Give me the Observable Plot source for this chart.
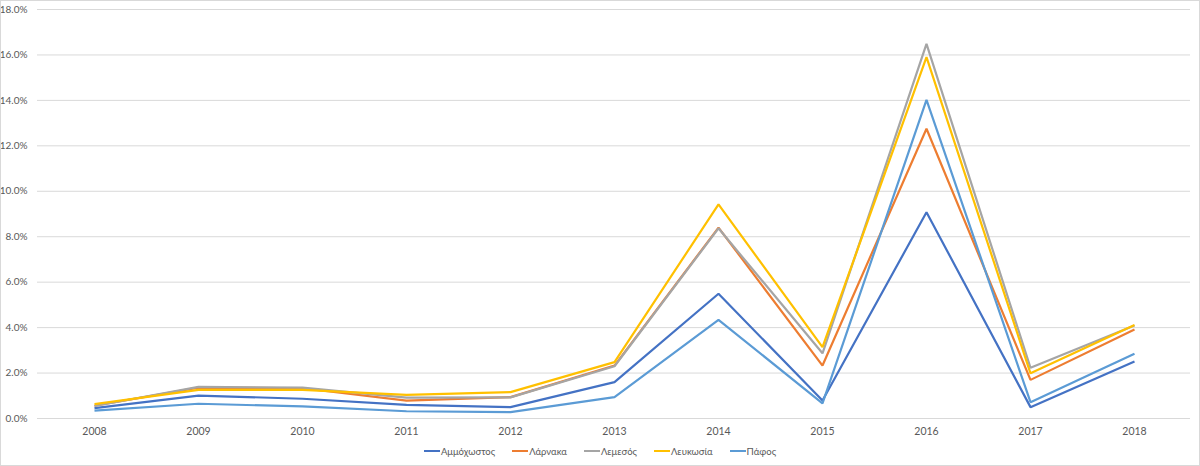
<!DOCTYPE html>
<html>
<head>
<meta charset="utf-8">
<script src="https://cdn.jsdelivr.net/npm/d3@7"></script>
<script src="https://cdn.jsdelivr.net/npm/@observablehq/plot@0.6"></script>
<style>
  html, body { margin: 0; padding: 0; background: #fff; }
  #wrap { position: relative; width: 1200px; height: 466px; overflow: hidden; font-family: Lato, "Liberation Sans", sans-serif; }
  #chart { position: absolute; left: 0; top: 0; }
  #legend { position: absolute; left: 0; top: 443px; width: 1200px; height: 16px; display: flex; justify-content: center; align-items: center; gap: 17px; font-size: 9.5px; color: #595959; }
  .item { display: flex; align-items: center; }
  .sw { width: 16px; height: 2px; margin-right: 1px; }
  #border { position: absolute; left: 0; top: 0; width: 1200px; height: 466px; box-sizing: border-box; border: 1px solid #d9d9d9; pointer-events: none; }
</style>
</head>
<body>
<div id="wrap">
  <div id="chart"></div>
  <div id="legend"></div>
  <div id="border"></div>
</div>
<script>
const years = ["2008","2009","2010","2011","2012","2013","2014","2015","2016","2017","2018"];
const seriesNames = ["Αμμόχωστος","Λάρνακα","Λεμεσός","Λευκωσία","Πάφος"];
const seriesColors = ["#4472C4","#ED7D31","#A5A5A5","#FFC000","#5B9BD5"];
// values in percent
const ammochostos = [0.46, 1.01, 0.87, 0.60, 0.50, 1.60, 5.49, 0.79, 9.08, 0.50, 2.51];
const larnaka     = [0.56, 1.36, 1.33, 0.79, 0.94, 2.33, 8.40, 2.33, 12.75, 1.70, 3.92];
const lemesos     = [0.55, 1.39, 1.36, 0.92, 0.93, 2.30, 8.37, 2.87, 16.49, 2.23, 4.09];
const lefkosia    = [0.63, 1.26, 1.26, 1.04, 1.16, 2.48, 9.42, 3.14, 15.90, 1.99, 4.11];
const pafos       = [0.35, 0.65, 0.53, 0.32, 0.28, 0.94, 4.34, 0.67, 14.02, 0.72, 2.85];
const yTicks = [0, 2, 4, 6, 8, 10, 12, 14, 16, 18];

const allValues = [ammochostos, larnaka, lemesos, lefkosia, pafos];
const rows = [];
seriesNames.forEach((s, i) => years.forEach((y, j) => rows.push({series: s, year: y, value: allValues[i][j]})));

const chart = Plot.plot({
  width: 1200,
  height: 440,
  marginTop: 9,
  marginBottom: 22,
  marginLeft: 37,
  marginRight: 10,
  style: {fontFamily: "Lato, 'Liberation Sans', sans-serif", fontSize: "10px", color: "#595959", background: "transparent", overflow: "visible"},
  x: {type: "point", domain: years, padding: 0.5, label: null},
  y: {domain: [0, 18], label: null},
  color: {domain: seriesNames, range: seriesColors},
  marks: [
    Plot.gridY(yTicks, {stroke: "#d9d9d9", strokeOpacity: 1, strokeWidth: 1}),
    Plot.axisX({tickSize: 0, tickPadding: 9, fill: "#595959", fontSize: 10.5}),
    Plot.axisY(yTicks, {tickSize: 0, tickPadding: 10, tickFormat: d => d.toFixed(1) + "%", fill: "#595959"}),
    Plot.line(rows, {x: "year", y: "value", z: "series", stroke: "series", strokeWidth: 2.2, strokeLinejoin: "miter", strokeLinecap: "butt"})
  ]
});
document.getElementById("chart").appendChild(chart);

const legend = document.getElementById("legend");
seriesNames.forEach((s, i) => {
  const it = document.createElement("div");
  it.className = "item";
  const sw = document.createElement("span");
  sw.className = "sw";
  sw.style.background = seriesColors[i];
  const t = document.createElement("span");
  t.textContent = s;
  it.appendChild(sw); it.appendChild(t);
  legend.appendChild(it);
});
</script>
</body>
</html>
